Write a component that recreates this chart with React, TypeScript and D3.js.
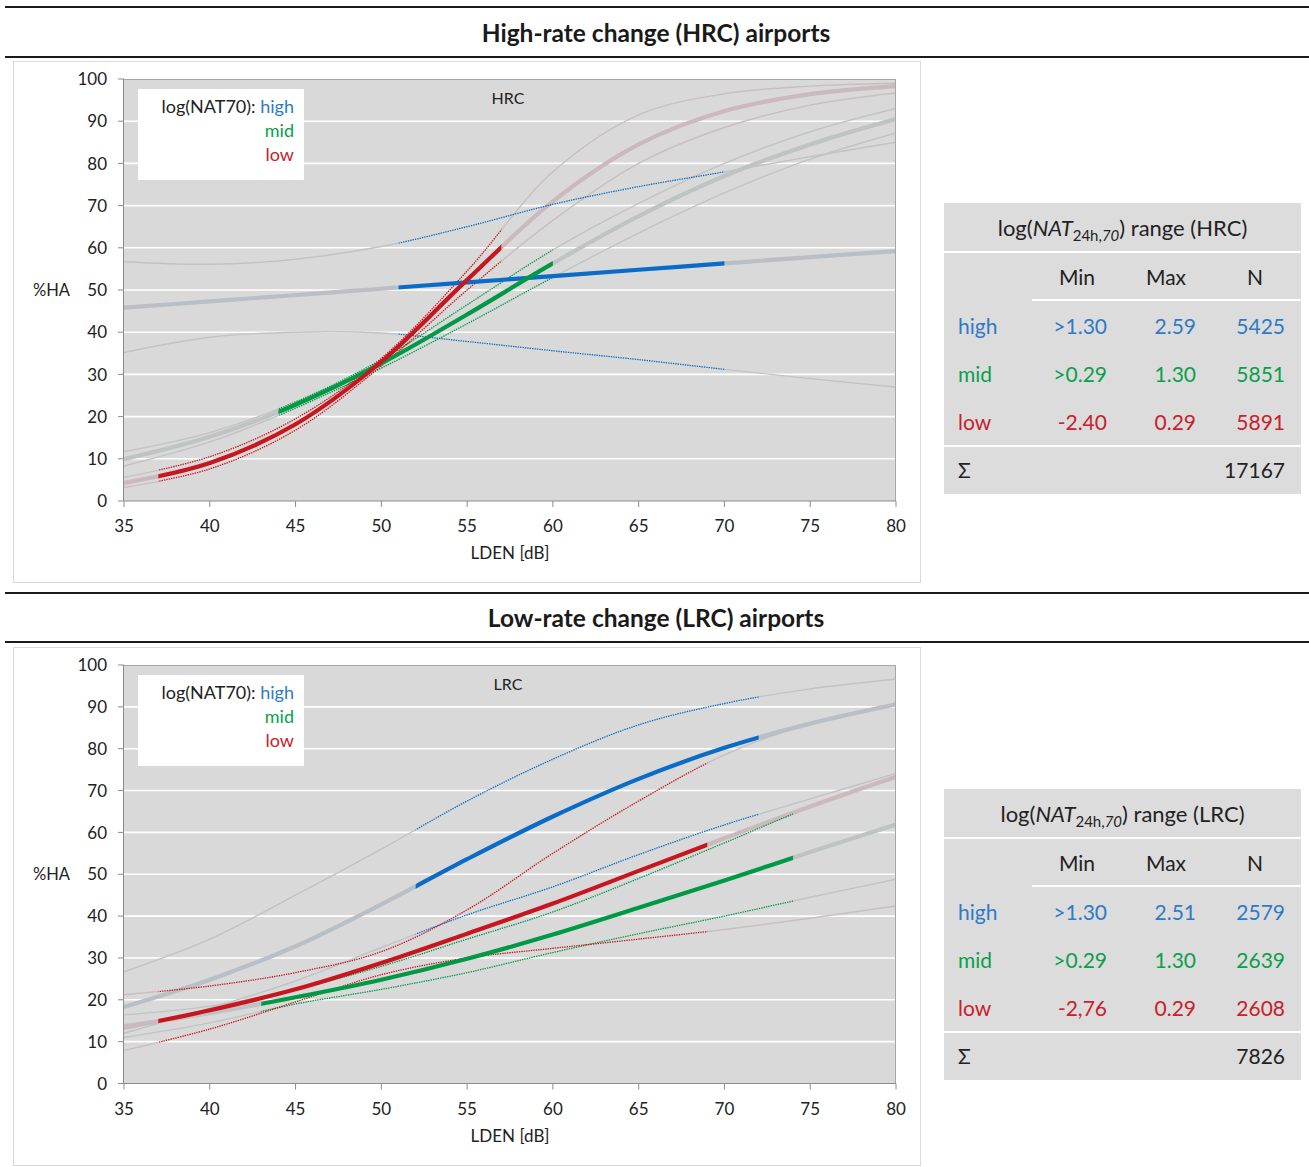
import React from 'react';
import * as d3 from 'd3';

// ---------- shared axes ----------
const LDEN = [35, 40, 45, 50, 55, 60, 65, 70, 75, 80];
const X_TICKS = [35, 40, 45, 50, 55, 60, 65, 70, 75, 80];
const Y_TICKS = [0, 10, 20, 30, 40, 50, 60, 70, 80, 90, 100];

// ---------- HRC curves (%HA at LDEN grid) ----------
const hrcHighMain = [45.8, 47.3, 48.8, 50.3, 51.8, 53.3, 54.8, 56.3, 57.8, 59.2];
const hrcHighUpper = [56.7, 56.1, 57.3, 60.3, 65.0, 70.3, 74.5, 78.0, 81.6, 85.0];
const hrcHighLower = [35.2, 38.8, 40.0, 39.8, 37.8, 35.6, 33.5, 31.2, 29.0, 27.0];
const hrcMidMain = [9.9, 15.2, 22.8, 32.6, 44.2, 56.3, 67.5, 77.0, 84.5, 90.5];
const hrcMidUpper = [11.7, 16.2, 23.5, 33.5, 46.5, 59.5, 70.5, 80.0, 87.5, 93.0];
const hrcMidLower = [8.3, 14.0, 22.0, 31.5, 42.0, 53.0, 63.5, 73.0, 81.0, 87.2];
const hrcLowMain = [4.3, 9.0, 18.2, 33.0, 52.4, 71.0, 84.5, 92.4, 96.4, 98.3];
const hrcLowUpper = [5.6, 10.5, 19.5, 33.8, 54.5, 78.0, 91.5, 96.5, 98.3, 99.0];
const hrcLowLower = [3.2, 7.6, 16.8, 32.0, 50.0, 66.5, 80.0, 88.5, 93.8, 96.7];
const hrcHighRange = [51, 70];
const hrcMidRange = [44, 60];
const hrcLowRange = [37, 57];

// ---------- LRC curves ----------
const lrcHighMain = [18.3, 24.8, 32.8, 42.8, 53.6, 63.8, 72.8, 80.2, 86.0, 90.6];
const lrcHighUpper = [26.7, 34.5, 45.0, 56.0, 67.5, 77.5, 85.7, 90.8, 94.3, 96.6];
const lrcHighLower = [12.0, 18.0, 24.5, 32.5, 40.3, 47.0, 54.7, 61.8, 68.0, 74.1];
const lrcMidMain = [13.7, 16.8, 20.6, 24.8, 29.8, 35.6, 42.0, 48.5, 55.3, 61.9];
const lrcMidUpper = [16.4, 18.5, 22.5, 28.0, 34.5, 41.0, 49.0, 57.5, 66.0, 73.0];
const lrcMidLower = [11.0, 14.5, 19.0, 22.5, 26.5, 31.3, 35.8, 40.0, 44.5, 48.8];
const lrcLowMain = [13.3, 17.5, 22.5, 28.8, 35.8, 43.0, 50.8, 58.6, 66.2, 73.3];
const lrcLowUpper = [21.2, 23.3, 26.5, 31.5, 41.5, 55.0, 67.5, 78.5, 86.0, 90.5];
const lrcLowLower = [7.9, 13.0, 19.5, 26.0, 30.0, 32.3, 34.5, 36.8, 39.5, 42.4];
const lrcHighRange = [52, 72];
const lrcMidRange = [43, 74];
const lrcLowRange = [37, 69];

// ---------- tables ----------
const TABLE_COLS = ['Min', 'Max', 'N'];
const TABLE_ROWS = ['high', 'mid', 'low'];
const hrcTableMin = ['>1.30', '>0.29', '-2.40'];
const hrcTableMax = ['2.59', '1.30', '0.29'];
const hrcTableN = ['5425', '5851', '5891'];
const hrcTotal = '17167';
const lrcTableMin = ['>1.30', '>0.29', '-2,76'];
const lrcTableMax = ['2.51', '1.30', '0.29'];
const lrcTableN = ['2579', '2639', '2608'];
const lrcTotal = '7826';

// ---------- styles ----------
const FONT = 'Lato, "Open Sans", sans-serif';
const LINE_COLORS: Record<string, string> = { high: '#0a6cc6', mid: '#009a44', low: '#c8161e' };
const TEXT_COLORS: Record<string, string> = { high: '#2e7bc4', mid: '#0aa04c', low: '#c9202a' };
const THICK_GRAY: Record<string, string> = { high: '#b9bfc6', mid: '#bec4c2', low: '#cbb9bd' };
const THIN_GRAY: Record<string, string> = { high: '#bfc3c8', mid: '#c0c4c2', low: '#c9bfc1' };

type Group = { key: string; range: number[]; main: number[]; upper: number[]; lower: number[] };

const hrcGroups: Group[] = [
  { key: 'high', range: hrcHighRange, main: hrcHighMain, upper: hrcHighUpper, lower: hrcHighLower },
  { key: 'mid', range: hrcMidRange, main: hrcMidMain, upper: hrcMidUpper, lower: hrcMidLower },
  { key: 'low', range: hrcLowRange, main: hrcLowMain, upper: hrcLowUpper, lower: hrcLowLower },
];
const lrcGroups: Group[] = [
  { key: 'high', range: lrcHighRange, main: lrcHighMain, upper: lrcHighUpper, lower: lrcHighLower },
  { key: 'mid', range: lrcMidRange, main: lrcMidMain, upper: lrcMidUpper, lower: lrcMidLower },
  { key: 'low', range: lrcLowRange, main: lrcLowMain, upper: lrcLowUpper, lower: lrcLowLower },
];

const PLOT_LEFT = 124;
const PLOT_RIGHT = 896;

function Chart(props: { id: string; label: string; boxTop: number; boxBottom: number; plotTop: number; plotBottom: number; groups: Group[] }) {
  const { id, label, boxTop, boxBottom, plotTop, plotBottom, groups } = props;
  const x = d3.scaleLinear().domain([35, 80]).range([PLOT_LEFT, PLOT_RIGHT]);
  const y = d3.scaleLinear().domain([0, 100]).range([plotBottom, plotTop]);
  const line = d3
    .line<number>()
    .x((_, i) => x(LDEN[i]))
    .y((d) => y(d))
    .curve(d3.curveCatmullRom.alpha(0.5));
  const h = plotBottom - plotTop;

  return (
    <g>
      <rect x={13.5} y={boxTop + 0.5} width={907} height={boxBottom - boxTop} fill="#fff" stroke="#d9d9d9" strokeWidth={1} />
      <rect x={PLOT_LEFT} y={plotTop} width={PLOT_RIGHT - PLOT_LEFT} height={h} fill="#d9d9d9" />
      {Y_TICKS.filter((t) => t > 0 && t < 100).map((t) => (
        <line key={t} x1={PLOT_LEFT} x2={PLOT_RIGHT} y1={y(t)} y2={y(t)} stroke="#fff" strokeWidth={1.6} />
      ))}
      <defs>
        <clipPath id={`${id}-plot`}>
          <rect x={PLOT_LEFT} y={plotTop} width={PLOT_RIGHT - PLOT_LEFT} height={h} />
        </clipPath>
        {groups.map((g) => (
          <React.Fragment key={g.key}>
            <clipPath id={`${id}-${g.key}-in`}>
              <rect x={x(g.range[0])} y={plotTop} width={x(g.range[1]) - x(g.range[0])} height={h} />
            </clipPath>
            <clipPath id={`${id}-${g.key}-out`}>
              <rect x={PLOT_LEFT} y={plotTop} width={x(g.range[0]) - PLOT_LEFT} height={h} />
              <rect x={x(g.range[1])} y={plotTop} width={PLOT_RIGHT - x(g.range[1])} height={h} />
            </clipPath>
          </React.Fragment>
        ))}
      </defs>
      <g clipPath={`url(#${id}-plot)`}>
        {groups.map((g) => (
          <g key={`thin-${g.key}`} clipPath={`url(#${id}-${g.key}-out)`} fill="none">
            <path d={line(g.upper) || ''} stroke={THIN_GRAY[g.key]} strokeWidth={1.4} />
            <path d={line(g.lower) || ''} stroke={THIN_GRAY[g.key]} strokeWidth={1.4} />
          </g>
        ))}
        {groups.map((g) => (
          <g key={`thick-${g.key}`} clipPath={`url(#${id}-${g.key}-out)`} fill="none">
            <path d={line(g.main) || ''} stroke={THICK_GRAY[g.key]} strokeWidth={4.2} />
          </g>
        ))}
        {groups.map((g) => (
          <g key={`dot-${g.key}`} clipPath={`url(#${id}-${g.key}-in)`} fill="none">
            <path d={line(g.upper) || ''} stroke={LINE_COLORS[g.key]} strokeWidth={1.3} strokeDasharray="1.4 1" />
            <path d={line(g.lower) || ''} stroke={LINE_COLORS[g.key]} strokeWidth={1.3} strokeDasharray="1.4 1" />
          </g>
        ))}
        {groups.map((g) => (
          <g key={`main-${g.key}`} clipPath={`url(#${id}-${g.key}-in)`} fill="none">
            <path d={line(g.main) || ''} stroke={LINE_COLORS[g.key]} strokeWidth={4.2} />
          </g>
        ))}
      </g>
      {/* plot frame */}
      <line x1={PLOT_LEFT} x2={PLOT_RIGHT} y1={plotTop + 0.5} y2={plotTop + 0.5} stroke="#a6a6a6" />
      <line x1={PLOT_RIGHT - 0.5} x2={PLOT_RIGHT - 0.5} y1={plotTop} y2={plotBottom} stroke="#a6a6a6" />
      <line x1={PLOT_LEFT - 0.5} x2={PLOT_LEFT - 0.5} y1={plotTop} y2={plotBottom} stroke="#8c8c8c" />
      <line x1={PLOT_LEFT} x2={PLOT_RIGHT} y1={plotBottom} y2={plotBottom} stroke="#8c8c8c" />
      {Y_TICKS.map((t) => (
        <g key={`yt${t}`}>
          <line x1={PLOT_LEFT - 6} x2={PLOT_LEFT} y1={y(t)} y2={y(t)} stroke="#8c8c8c" />
          <text x={107} y={y(t)} dy="0.36em" textAnchor="end" fontSize={17} fill="#222" fontFamily={FONT}>
            {t}
          </text>
        </g>
      ))}
      {X_TICKS.map((t) => (
        <g key={`xt${t}`}>
          <line x1={x(t)} x2={x(t)} y1={plotBottom} y2={plotBottom + 6} stroke="#8c8c8c" />
          <text x={x(t)} y={plotBottom + 31} textAnchor="middle" fontSize={17} fill="#222" fontFamily={FONT}>
            {t}
          </text>
        </g>
      ))}
      <text x={510} y={plotBottom + 58} textAnchor="middle" fontSize={17} fill="#222" fontFamily={FONT}>
        LDEN [dB]
      </text>
      <text x={33} y={y(50) + 6} fontSize={16.5} fill="#222" fontFamily={FONT}>
        %HA
      </text>
      <text x={508} y={plotTop + 25} textAnchor="middle" fontSize={16} fill="#222" fontFamily={FONT}>
        {label}
      </text>
      {/* legend */}
      <rect x={138} y={plotTop + 10} width={166} height={91} fill="#fff" />
      <text x={294} y={plotTop + 34} textAnchor="end" fontSize={18} fontFamily={FONT}>
        <tspan fill="#222">log(NAT70): </tspan>
        <tspan fill={TEXT_COLORS.high}>high</tspan>
      </text>
      <text x={294} y={plotTop + 58} textAnchor="end" fontSize={18} fontFamily={FONT} fill={TEXT_COLORS.mid}>
        mid
      </text>
      <text x={294} y={plotTop + 82} textAnchor="end" fontSize={18} fontFamily={FONT} fill={TEXT_COLORS.low}>
        low
      </text>
    </g>
  );
}

function Table(props: { top: number; label: string; mins: string[]; maxs: string[]; ns: string[]; total: string }) {
  const { top, label, mins, maxs, ns, total } = props;
  const L = 944;
  const R = 1301;
  const bg = '#dcdcdd';
  const colCenters = [1077, 1166, 1255];
  const colRights = [1107, 1196, 1285];
  const fs = 21;
  const rowY = [top + 124, top + 172, top + 220];
  const cols = [mins, maxs, ns];
  return (
    <g fontFamily={FONT} fontSize={fs}>
      <rect x={L} y={top} width={R - L} height={48} fill={bg} />
      <rect x={L} y={top + 50} width={R - L} height={192} fill={bg} />
      <rect x={L} y={top + 244} width={R - L} height={47} fill={bg} />
      <line x1={1032} x2={R} y1={top + 97} y2={top + 97} stroke="#fff" strokeWidth={2} />
      <text x={(L + R) / 2} y={top + 25} dy="0.35em" textAnchor="middle" fill="#222" fontSize={22}>
        <tspan>log(</tspan>
        <tspan fontStyle="italic">NAT</tspan>
        <tspan fontSize={15} dy={5}>24h,</tspan>
        <tspan fontSize={15} fontStyle="italic">70</tspan>
        <tspan dy={-5}>) range ({label})</tspan>
      </text>
      {TABLE_COLS.map((c, i) => (
        <text key={c} x={colCenters[i]} y={top + 75} dy="0.35em" textAnchor="middle" fill="#222">
          {c}
        </text>
      ))}
      {TABLE_ROWS.map((r, ri) => (
        <g key={r} fill={TEXT_COLORS[r]}>
          <text x={958} y={rowY[ri]} dy="0.35em">
            {r}
          </text>
          {cols.map((col, ci) => (
            <text key={ci} x={colRights[ci]} y={rowY[ri]} dy="0.35em" textAnchor="end">
              {col[ri]}
            </text>
          ))}
        </g>
      ))}
      <text x={958} y={top + 268} dy="0.35em" fill="#222">
        Σ
      </text>
      <text x={colRights[2]} y={top + 268} dy="0.35em" textAnchor="end" fill="#222">
        {total}
      </text>
    </g>
  );
}

function SectionTitle(props: { y1: number; y2: number; text: string }) {
  const { y1, y2, text } = props;
  return (
    <g>
      <rect x={5} y={y1 - 1} width={1304} height={2} fill="#1a1a1a" />
      <rect x={5} y={y2 - 1} width={1304} height={2} fill="#1a1a1a" />
      <text x={656} y={(y1 + y2) / 2 + 1} dy="0.36em" textAnchor="middle" fontSize={24.5} fontWeight="bold" fill="#1a1a1a" fontFamily={FONT}>
        {text}
      </text>
    </g>
  );
}

export default function App() {
  return (
    <svg width={1309} height={1167} style={{ position: 'absolute', left: 0, top: 0, background: '#fff' }}>
      <SectionTitle y1={7} y2={57} text="High-rate change (HRC) airports" />
      <Chart id="hrc" label="HRC" boxTop={61} boxBottom={582} plotTop={79} plotBottom={501} groups={hrcGroups} />
      <Table top={203} label="HRC" mins={hrcTableMin} maxs={hrcTableMax} ns={hrcTableN} total={hrcTotal} />
      <SectionTitle y1={593} y2={642} text="Low-rate change (LRC) airports" />
      <Chart id="lrc" label="LRC" boxTop={647} boxBottom={1165} plotTop={665} plotBottom={1083.5} groups={lrcGroups} />
      <Table top={789} label="LRC" mins={lrcTableMin} maxs={lrcTableMax} ns={lrcTableN} total={lrcTotal} />
    </svg>
  );
}
